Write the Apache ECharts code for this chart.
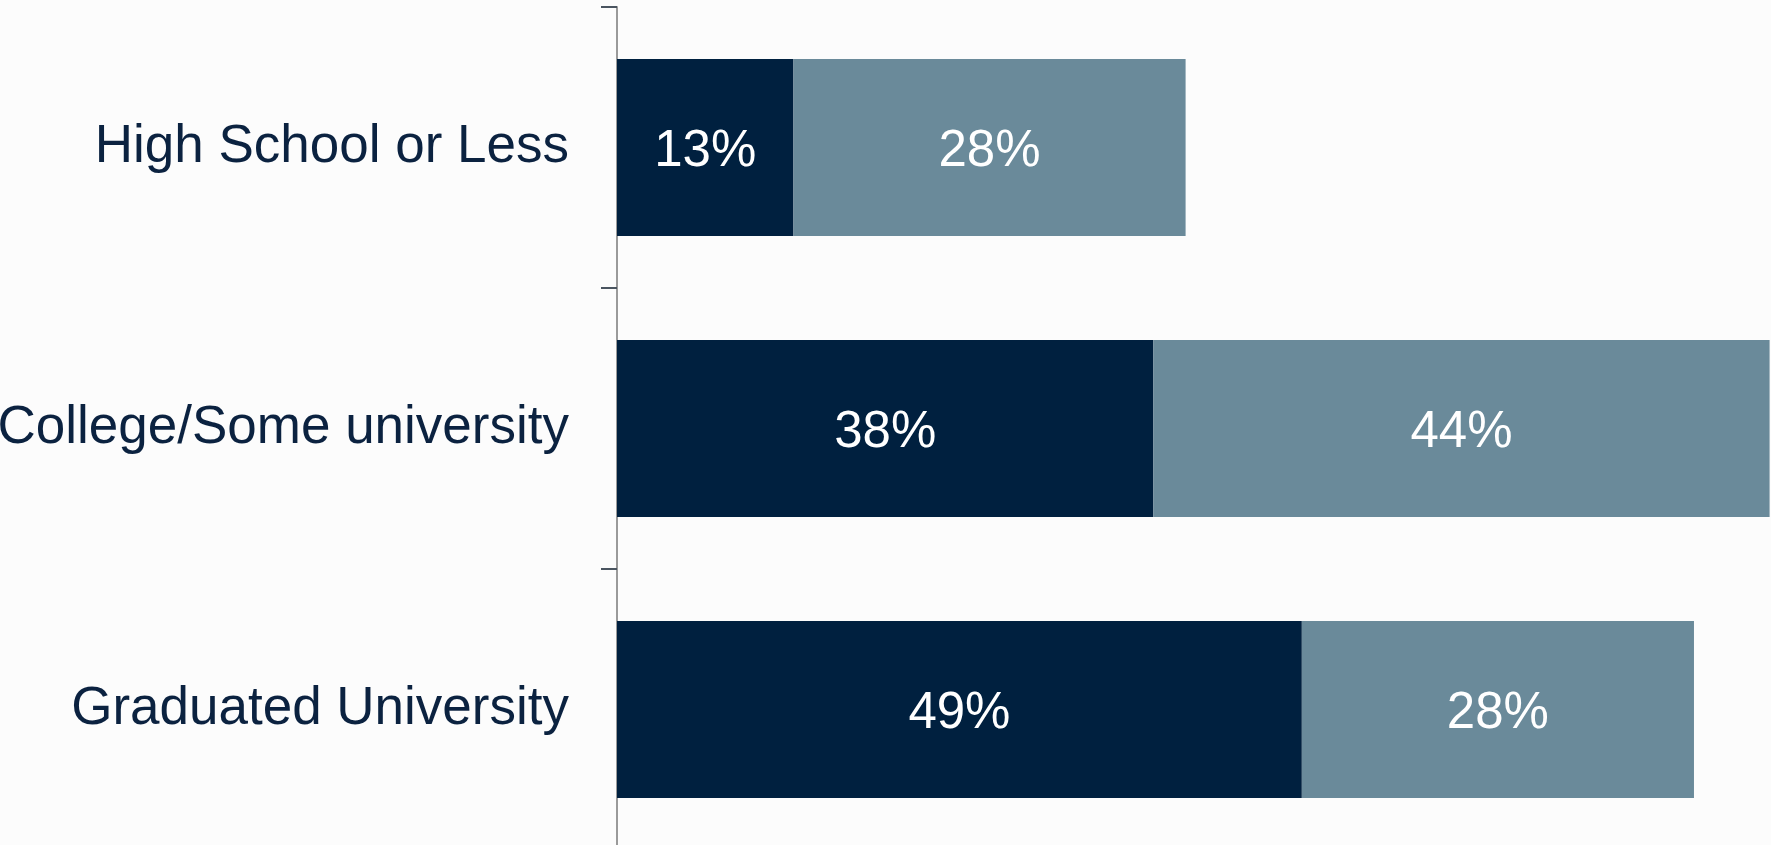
<!DOCTYPE html>
<html>
<head>
<meta charset="utf-8">
<script src="https://cdn.jsdelivr.net/npm/echarts@6/dist/echarts.min.js"></script>
<style>
	html, body { margin: 0; padding: 0; background: #fcfcfc; }
	#chart { width: 1771px; height: 845px; }
</style>
</head>
<body>
<div id="chart"></div>
<script>
var categories = ["High School or Less", "College/Some university", "Graduated University"];
var darkValues = [12.6, 38.3, 48.9];
var lightValues = [28.0, 44.0, 28.0];

function pctLabel(p) {
	return Math.round(p.value) + "%";
}

var barLabel = {
	show: true,
	position: "inside",
	offset: [0, 4],
	color: "#ffffff",
	fontSize: 51,
	fontFamily: "Liberation Sans, Arial, sans-serif",
	formatter: pctLabel
};

var option = {
	backgroundColor: "#fcfcfc",
	animation: false,
	grid: {
		left: 617,
		top: 7,
		right: 0,
		height: 843,
		outerBoundsMode: "none",
		containLabel: false
	},
	xAxis: [{
		type: "value",
		min: 0,
		max: 82.4,
		show: false
	}],
	yAxis: [{
		type: "category",
		inverse: true,
		data: categories,
		axisLine: {
			show: true,
			lineStyle: {
				color: "#9a9a9a",
				width: 2
			}
		},
		axisTick: {
			show: true,
			length: 16,
			lineStyle: {
				color: "#4a5560",
				width: 2
			}
		},
		axisLabel: {
			margin: 48,
			padding: [30, 0, 0, 0],
			color: "#0b2240",
			fontSize: 53,
			fontFamily: "Liberation Sans, Arial, sans-serif"
		},
		splitLine: {
			show: false
		}
	}],
	series: [{
		name: "dark",
		type: "bar",
		stack: "total",
		barWidth: "63%",
		data: darkValues,
		itemStyle: {
			color: "#00203f"
		},
		label: barLabel
	}, {
		name: "light",
		type: "bar",
		stack: "total",
		barWidth: "63%",
		data: lightValues,
		itemStyle: {
			color: "#6a8a9a"
		},
		label: barLabel
	}]
};

var myChart = echarts.init(document.getElementById("chart"));
myChart.setOption(option);
</script>
</body>
</html>
